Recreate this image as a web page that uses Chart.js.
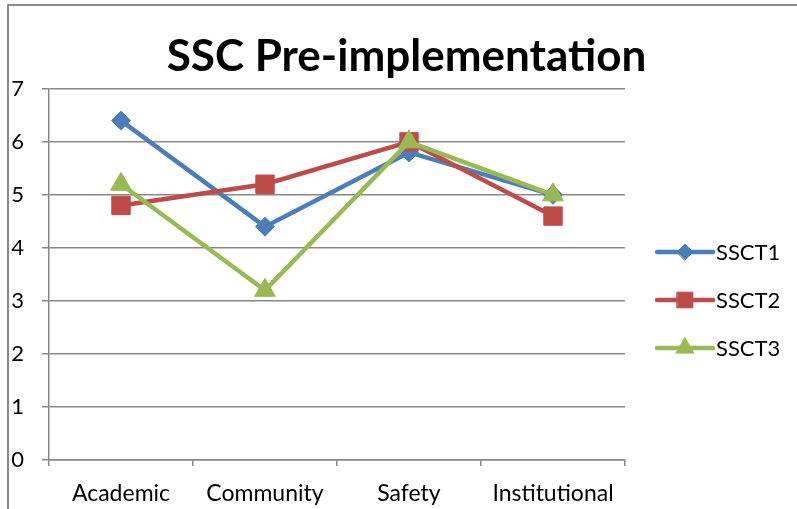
<!DOCTYPE html>
<html>
<head>
<meta charset="utf-8">
<script src="https://cdn.jsdelivr.net/npm/chart.js@4/dist/chart.umd.min.js"></script>
<style>
  body { margin: 0; background: #fff; overflow: hidden; }
  #wrap { position: relative; width: 797px; height: 509px; overflow: hidden; }
  #frame { position: absolute; left: 7px; top: 4px; width: 900px; height: 600px;
           border-top: 2px solid #8a8a8a; border-left: 2px solid #8a8a8a; pointer-events: none; }
</style>
</head>
<body>
<div id="wrap">
  <canvas id="chart" width="813" height="509"></canvas>
  <div id="frame"></div>
</div>
<script>
// data
let categories = ['Academic', 'Community', 'Safety', 'Institutional'];
let ssct1 = [6.4, 4.4, 5.8, 5.0];
let ssct2 = [4.8, 5.2, 6.0, 4.6];
let ssct3 = [5.2, 3.2, 6.0, 5.0];
let yTicks = [0, 1, 2, 3, 4, 5, 6, 7];

const FONT = 'Lato, "Noto Sans", sans-serif';
const GRID = '#878787';

// legend on the right: line + marker, like the office chart
const sideLegend = {
    id: 'sideLegend',
    afterDraw(chart) {
        const ctx = chart.ctx;
        const x0 = chart.chartArea.right + 32;
        chart.data.datasets.forEach((ds, i) => {
            let y = 252 + i * 48;
            ctx.save();
            ctx.strokeStyle = ds.borderColor;
            ctx.fillStyle = ds.backgroundColor;
            ctx.lineWidth = ds.borderWidth;
            ctx.lineCap = 'round';
            ctx.beginPath();
            ctx.moveTo(x0, y);
            ctx.lineTo(x0 + 56, y);
            ctx.stroke();
            ctx.lineWidth = 1;
            Chart.helpers.drawPoint(ctx, {
                pointStyle: ds.pointStyle,
                radius: ds.pointRadius * 0.85,
                rotation: 0,
                borderWidth: 1
            }, x0 + 28, y);
            ctx.fillStyle = '#000';
            ctx.font = '22px ' + FONT;
            ctx.textBaseline = 'middle';
            ctx.fillText(ds.label, x0 + 59, y + 1);
            ctx.restore();
        });
    }
};

let chart = new Chart(document.getElementById('chart'), {
    type: 'line',
    data: {
        labels: categories,
        datasets: [{
            label: 'SSCT1',
            data: ssct1,
            borderColor: '#4a7ebb',
            backgroundColor: '#4a7ebb',
            borderWidth: 4.5,
            pointStyle: 'rectRot',
            pointRadius: 9.5,
            pointBorderWidth: 1,
            order: 2
        }, {
            label: 'SSCT2',
            data: ssct2,
            borderColor: '#be4b48',
            backgroundColor: '#be4b48',
            borderWidth: 4.5,
            pointStyle: 'rect',
            pointRadius: 13,
            pointBorderWidth: 1,
            order: 1
        }, {
            label: 'SSCT3',
            data: ssct3,
            borderColor: '#98b954',
            backgroundColor: '#98b954',
            borderWidth: 4.5,
            pointStyle: 'triangle',
            pointRadius: 12,
            pointBorderWidth: 1,
            order: 0
        }]
    },
    options: {
        responsive: false,
        animation: false,
        layout: { padding: 0 },
        plugins: {
            legend: { display: false },
            tooltip: { enabled: false },
            title: {
                display: true,
                text: 'SSC Pre-implementation',
                color: '#000',
                font: { family: FONT, size: 44, weight: 'bold', lineHeight: 1.2 },
                padding: { top: 30, bottom: 6 }
            }
        },
        scales: {
            x: {
                offset: true,
                grid: { display: true, drawOnChartArea: false, offset: true, tickLength: 6, color: GRID, lineWidth: 1.5 },
                border: { display: true, color: GRID, width: 1.5 },
                ticks: { color: '#000', font: { family: FONT, size: 23 }, padding: 14, maxRotation: 0 },
                afterFit: (s) => { s.height = 49; }
            },
            y: {
                min: 0,
                max: 7,
                afterBuildTicks: (s) => { s.ticks = yTicks.map(v => ({ value: v })); },
                grid: { color: GRID, lineWidth: 1.5, tickLength: 7 },
                border: { display: true, color: GRID, width: 1.5 },
                ticks: { color: '#000', font: { family: FONT, size: 22 }, padding: 18 },
                afterFit: (s) => { s.width = 49; }
            },
            side: {
                position: 'right',
                display: true,
                grid: { display: false },
                border: { display: false },
                ticks: { display: false },
                afterFit: (s) => { s.width = 188; }
            }
        }
    },
    plugins: [sideLegend]
});
</script>
</body>
</html>
